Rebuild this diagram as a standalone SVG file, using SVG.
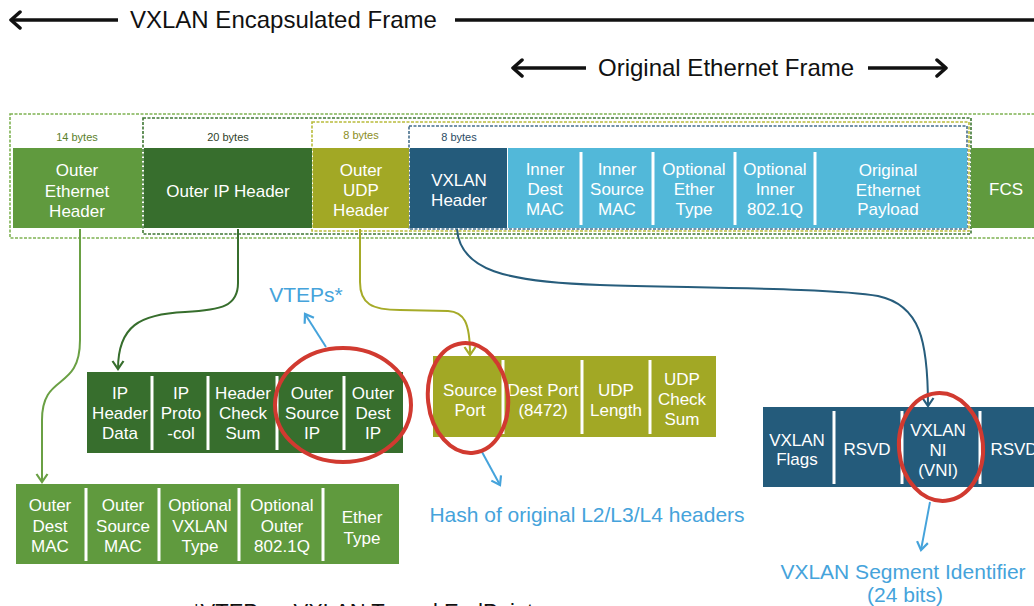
<svg xmlns="http://www.w3.org/2000/svg" width="1034" height="606" viewBox="0 0 1034 606">
<style>
text{font-family:"Liberation Sans",Arial,Helvetica,sans-serif}
.hd{font-size:24px;fill:#111}
.c{font-size:17px;fill:#fff;text-anchor:middle}
.by{font-size:11px;text-anchor:middle}
.sep{stroke:#fff;stroke-width:3}
.sep2{stroke:#fff;stroke-width:2}
.ann{font-size:21px;fill:#45a3db;text-anchor:middle}
.red{fill:none;stroke:#d13a30;stroke-width:4}
.dash{fill:none;stroke-width:1.6;stroke-dasharray:3 1.5}
.conn{fill:none;stroke-width:2}
</style>
<defs>
<marker id="mBlack" markerUnits="userSpaceOnUse" markerWidth="20" markerHeight="20" refX="12" refY="10" orient="auto"><path d="M3,2 L12,10 L3,18" fill="none" stroke="#111" stroke-width="3.5" stroke-linecap="round" stroke-linejoin="round"/></marker>
<marker id="mEth" markerUnits="userSpaceOnUse" markerWidth="14" markerHeight="14" refX="10" refY="7" orient="auto"><path d="M2,1.5 L10,7 L2,12.5" fill="none" stroke="#6aa044" stroke-width="2.2"/></marker>
<marker id="mIP" markerUnits="userSpaceOnUse" markerWidth="14" markerHeight="14" refX="10" refY="7" orient="auto"><path d="M2,1.5 L10,7 L2,12.5" fill="none" stroke="#376e2d" stroke-width="2.2"/></marker>
<marker id="mUDP" markerUnits="userSpaceOnUse" markerWidth="14" markerHeight="14" refX="10" refY="7" orient="auto"><path d="M2,1.5 L10,7 L2,12.5" fill="none" stroke="#a6ab28" stroke-width="2.2"/></marker>
<marker id="mVX" markerUnits="userSpaceOnUse" markerWidth="14" markerHeight="14" refX="10" refY="7" orient="auto"><path d="M2,1.5 L10,7 L2,12.5" fill="none" stroke="#275d7c" stroke-width="2.2"/></marker>
<marker id="mBlue" markerUnits="userSpaceOnUse" markerWidth="14" markerHeight="14" refX="10" refY="7" orient="auto"><path d="M2,1.5 L10,7 L2,12.5" fill="none" stroke="#45a3db" stroke-width="2.2"/></marker>
</defs>
<rect width="1034" height="606" fill="#fff"/>

<g id="header-arrows">
<line x1="118" y1="20" x2="11" y2="20" stroke="#111" stroke-width="3.5" marker-end="url(#mBlack)"/>
<text class="hd" x="130" y="28">VXLAN Encapsulated Frame</text>
<line x1="455" y1="20" x2="1040" y2="20" stroke="#111" stroke-width="3.5"/>
<line x1="586" y1="68" x2="513" y2="68" stroke="#111" stroke-width="3.5" marker-end="url(#mBlack)"/>
<text class="hd" x="598" y="76">Original Ethernet Frame</text>
<line x1="868" y1="68" x2="946" y2="68" stroke="#111" stroke-width="3.5" marker-end="url(#mBlack)"/>
</g>

<g id="frame">
<rect class="dash" x="10" y="114" width="1040" height="124" stroke="#7fb253"/>
<rect class="dash" x="143" y="118" width="828" height="116" stroke="#3f7734"/>
<rect class="dash" x="312" y="122" width="657" height="109" stroke="#b9bc3c"/>
<rect class="dash" x="409" y="126" width="558" height="103" stroke="#466f8c"/>
<text class="by" x="77" y="141" fill="#5b7f2c">14 bytes</text>
<text class="by" x="228" y="141" fill="#2f3f2a">20 bytes</text>
<text class="by" x="361" y="139" fill="#8a8e1e">8 bytes</text>
<text class="by" x="459" y="141" fill="#2b4b63">8 bytes</text>
<g id="outer-ethernet-header">
<rect x="13" y="148" width="129" height="80" fill="#609a3e"/>
<text class="c" x="77" y="176">Outer</text><text class="c" x="77" y="197">Ethernet</text><text class="c" x="77" y="217">Header</text>
</g>
<g id="outer-ip-header">
<rect x="144" y="148" width="168" height="80" fill="#376e2d"/>
<text class="c" x="228" y="197">Outer IP Header</text>
</g>
<g id="outer-udp-header">
<rect x="313" y="148" width="96" height="80" fill="#a2a825"/>
<text class="c" x="361" y="176">Outer</text><text class="c" x="361" y="196">UDP</text><text class="c" x="361" y="216">Header</text>
</g>
<g id="vxlan-header">
<rect x="410" y="148" width="97" height="80" fill="#245b7b"/>
<text class="c" x="459" y="186">VXLAN</text><text class="c" x="459" y="206">Header</text>
</g>
<g id="original-frame">
<rect x="508" y="148" width="459" height="80" fill="#52b8d9"/>
<line class="sep" x1="581" y1="152" x2="581" y2="225"/>
<line class="sep" x1="653" y1="152" x2="653" y2="225"/>
<line class="sep" x1="735" y1="152" x2="735" y2="225"/>
<line class="sep" x1="815" y1="152" x2="815" y2="225"/>
<text class="c" x="545" y="175">Inner</text><text class="c" x="545" y="195">Dest</text><text class="c" x="545" y="215">MAC</text>
<text class="c" x="617" y="175">Inner</text><text class="c" x="617" y="195">Source</text><text class="c" x="617" y="215">MAC</text>
<text class="c" x="694" y="175">Optional</text><text class="c" x="694" y="195">Ether</text><text class="c" x="694" y="215">Type</text>
<text class="c" x="775" y="175">Optional</text><text class="c" x="775" y="195">Inner</text><text class="c" x="775" y="215">802.1Q</text>
<text class="c" x="888" y="176">Original</text><text class="c" x="888" y="196">Ethernet</text><text class="c" x="888" y="215">Payload</text>
</g>
<g id="fcs">
<rect x="971" y="148" width="70" height="80" fill="#609a3e"/>
<text class="c" x="1006" y="195">FCS</text>
</g>
</g>

<g id="connectors">
<path class="conn" d="M80,229 V340 C80,392 42,372 42,420 V482" stroke="#6aa044" marker-end="url(#mEth)"/>
<path class="conn" d="M238,229 V283 C238,306 222,310 185,312 C140,314 118,326 118,369" stroke="#376e2d" marker-end="url(#mIP)"/>
<path class="conn" d="M360,229 V282 C360,304 372,310 400,310 L448,311 C464,312 470,322 470,355" stroke="#a6ab28" marker-end="url(#mUDP)"/>
<path class="conn" d="M457,229 C460,270 505,282 600,285 C700,288 835,288 878,296 C920,305 928,340 928,406" stroke="#275d7c" marker-end="url(#mVX)"/>
<line class="conn" x1="326" y1="347" x2="305" y2="314" stroke="#45a3db" marker-end="url(#mBlue)"/>
<line class="conn" x1="482" y1="452" x2="500" y2="485" stroke="#45a3db" marker-end="url(#mBlue)"/>
<line class="conn" x1="930" y1="502" x2="921" y2="550" stroke="#45a3db" marker-end="url(#mBlue)"/>
</g>

<g id="ip-header-fields">
<rect x="87" y="372" width="316" height="81" fill="#376e2d"/>
<line class="sep" x1="152" y1="376" x2="152" y2="450"/>
<line class="sep" x1="208" y1="376" x2="208" y2="450"/>
<line class="sep" x1="277" y1="376" x2="277" y2="450"/>
<line class="sep" x1="344" y1="376" x2="344" y2="450"/>
<text class="c" x="120" y="399">IP</text><text class="c" x="120" y="419">Header</text><text class="c" x="120" y="439">Data</text>
<text class="c" x="181" y="399">IP</text><text class="c" x="181" y="419">Proto</text><text class="c" x="181" y="439">-col</text>
<text class="c" x="243" y="399">Header</text><text class="c" x="243" y="419">Check</text><text class="c" x="243" y="439">Sum</text>
<text class="c" x="312" y="399">Outer</text><text class="c" x="312" y="419">Source</text><text class="c" x="312" y="439">IP</text>
<text class="c" x="373" y="399">Outer</text><text class="c" x="373" y="419">Dest</text><text class="c" x="373" y="439">IP</text>
</g>

<g id="udp-header-fields">
<rect x="433" y="356" width="283" height="81" fill="#a2a825"/>
<line class="sep" x1="503" y1="360" x2="503" y2="434"/>
<line class="sep" x1="582" y1="360" x2="582" y2="434"/>
<line class="sep" x1="650" y1="360" x2="650" y2="434"/>
<text class="c" x="470" y="396">Source</text><text class="c" x="470" y="416">Port</text>
<text class="c" x="543" y="396">Dest Port</text><text class="c" x="543" y="416">(8472)</text>
<text class="c" x="616" y="396">UDP</text><text class="c" x="616" y="416">Length</text>
<text class="c" x="682" y="385">UDP</text><text class="c" x="682" y="405">Check</text><text class="c" x="682" y="425">Sum</text>
</g>

<g id="vxlan-header-fields">
<rect x="763" y="407" width="280" height="80" fill="#245b7b"/>
<line class="sep" x1="834" y1="411" x2="834" y2="484"/>
<line class="sep" x1="902" y1="411" x2="902" y2="484"/>
<line class="sep" x1="980" y1="411" x2="980" y2="484"/>
<text class="c" x="797" y="446">VXLAN</text><text class="c" x="797" y="465">Flags</text>
<text class="c" x="867" y="455">RSVD</text>
<text class="c" x="938" y="436">VXLAN</text><text class="c" x="938" y="456">NI</text><text class="c" x="938" y="476">(VNI)</text>
<text class="c" x="1014" y="455">RSVD</text>
</g>

<g id="outer-ethernet-fields">
<rect x="16" y="484" width="383" height="80" fill="#609a3e"/>
<line class="sep" x1="86" y1="488" x2="86" y2="561"/>
<line class="sep" x1="159" y1="488" x2="159" y2="561"/>
<line class="sep" x1="239" y1="488" x2="239" y2="561"/>
<line class="sep" x1="323" y1="488" x2="323" y2="561"/>
<text class="c" x="50" y="511">Outer</text><text class="c" x="50" y="532">Dest</text><text class="c" x="50" y="552">MAC</text>
<text class="c" x="123" y="511">Outer</text><text class="c" x="123" y="532">Source</text><text class="c" x="123" y="552">MAC</text>
<text class="c" x="200" y="511">Optional</text><text class="c" x="200" y="532">VXLAN</text><text class="c" x="200" y="552">Type</text>
<text class="c" x="282" y="511">Optional</text><text class="c" x="282" y="532">Outer</text><text class="c" x="282" y="552">802.1Q</text>
<text class="c" x="362" y="523">Ether</text><text class="c" x="362" y="544">Type</text>
</g>

<g id="highlights">
<ellipse class="red" cx="343" cy="405" rx="68" ry="57"/>
<ellipse class="red" cx="468" cy="398" rx="40" ry="55" transform="rotate(-6 468 398)"/>
<ellipse class="red" cx="941" cy="447" rx="42" ry="54" transform="rotate(-5 941 447)"/>
</g>

<g id="annotations">
<text class="ann" x="306" y="302">VTEPs*</text>
<text class="ann" x="587" y="522">Hash of original L2/L3/L4 headers</text>
<text class="ann" x="903" y="579">VXLAN Segment Identifier</text>
<text class="ann" x="905" y="602">(24 bits)</text>
<text x="192" y="619" font-size="22" fill="#111">*VTEPs – VXLAN Tunnel EndPoints</text>
</g>
</svg>
